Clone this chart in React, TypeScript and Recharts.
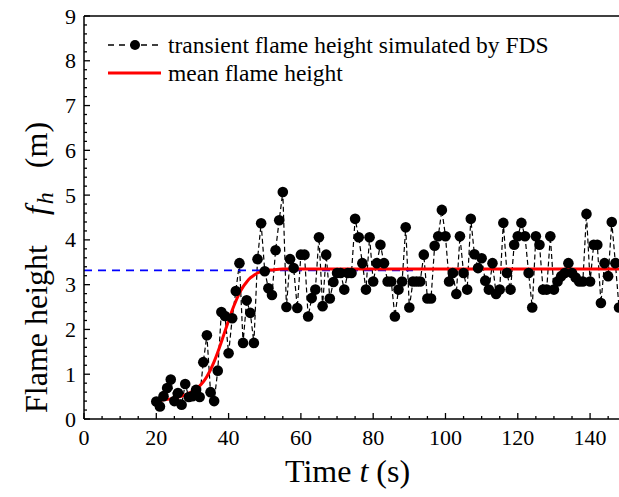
import React from "react";
import { ComposedChart, Line, XAxis, YAxis, ReferenceLine, Legend } from "recharts";

// transient flame height from FDS, one sample per second starting at t = 20 s
const sampleStart = 20;
const transientHeights = [
  0.39, 0.28, 0.51, 0.69, 0.88, 0.4, 0.58, 0.32, 0.78, 0.49,
  0.51, 0.65, 0.49, 1.27, 1.87, 0.6, 0.4, 1.08, 2.39, 2.3,
  1.47, 2.25, 2.86, 3.48, 1.7, 2.65, 2.37, 1.7, 3.57, 4.37,
  3.3, 2.92, 2.77, 3.77, 4.44, 5.07, 2.5, 3.57, 3.37, 2.48,
  3.67, 3.67, 2.29, 2.7, 2.89, 4.06, 2.52, 3.67, 2.69, 3.06,
  3.26, 3.26, 2.89, 3.26, 3.26, 4.47, 4.06, 3.48, 2.89, 4.06,
  3.07, 3.48, 3.89, 3.48, 3.07, 3.07, 2.29, 2.89, 3.07, 4.28,
  2.49, 3.07, 3.07, 3.07, 3.67, 2.69, 2.69, 3.87, 4.08, 4.67,
  4.08, 3.07, 3.26, 2.79, 4.08, 3.26, 2.89, 4.47, 3.68, 3.37,
  3.59, 3.09, 2.89, 3.48, 2.79, 2.89, 4.38, 3.26, 2.89, 3.89,
  4.08, 4.38, 4.08, 3.26, 2.49, 4.08, 3.89, 2.89, 2.89, 4.08,
  2.89, 3.07, 3.19, 3.26, 3.48, 3.26, 3.16, 3.07, 3.07, 4.58,
  3.07, 3.89, 3.89, 2.59, 3.48, 3.19, 4.4, 3.48, 2.49,
];

// mean (fitted) flame height curve
const fitTimes = [20, 22, 24, 26, 28, 30, 32, 33, 34, 35, 36, 37, 38, 39, 40, 41, 42, 43, 44, 45, 46, 47, 48, 50, 52, 55, 60, 148];
const fitHeights = [0.42, 0.43, 0.45, 0.49, 0.54, 0.62, 0.74, 0.83, 0.95, 1.1, 1.28, 1.49, 1.72, 1.96, 2.2, 2.43, 2.63, 2.81, 2.95, 3.06, 3.15, 3.21, 3.26, 3.31, 3.33, 3.35, 3.35, 3.35];

// blue dashed average level
const meanTimes = [0, 91];
const meanHeights = [3.32, 3.32];

const xMajorTicks = [0, 20, 40, 60, 80, 100, 120, 140];
const xAllTicks = [0, 5, 10, 15, 20, 25, 30, 35, 40, 45, 50, 55, 60, 65, 70, 75, 80, 85, 90, 95, 100, 105, 110, 115, 120, 125, 130, 135, 140, 145];
const yMajorTicks = [0, 1, 2, 3, 4, 5, 6, 7, 8, 9];
const yAllTicks = Array.from({ length: 46 }, (_, i) => Math.round(i * 2) / 10);

const transientData = transientHeights.map((h, i) => ({ t: sampleStart + i, h }));
const fitData = fitTimes.map((t, i) => ({ t, h: fitHeights[i] }));
const meanData = meanTimes.map((t, i) => ({ t, h: meanHeights[i] }));

const FONT = "'Liberation Serif', 'Times New Roman', serif";
const serif = { fontFamily: FONT };

const XTick = (props: any) => {
  const { x, y, payload } = props;
  const major = xMajorTicks.includes(payload.value);
  return (
    <g>
      <line x1={x} y1={y} x2={x} y2={y - (major ? 6 : 3)} stroke="#000" strokeWidth={1.3} />
      {major && (
        <text x={x} y={y + 26} textAnchor="middle" fontSize={22} fill="#000" style={serif}>
          {payload.value}
        </text>
      )}
    </g>
  );
};

const YTick = (props: any) => {
  const { x, y, payload } = props;
  const major = yMajorTicks.includes(payload.value);
  return (
    <g>
      <line x1={x} y1={y} x2={x + (major ? 6 : 3)} y2={y} stroke="#000" strokeWidth={1.3} />
      {major && (
        <text x={x - 8} y={y + 7.5} textAnchor="end" fontSize={22} fill="#000" style={serif}>
          {payload.value}
        </text>
      )}
    </g>
  );
};

const XTitle = (props: any) => {
  const vb = props.viewBox;
  return (
    <text x={vb.x + vb.width / 2 - 4} y={vb.y + 63} textAnchor="middle" fontSize={32} fill="#000" style={serif}>
      Time <tspan fontStyle="italic">t</tspan> (s)
    </text>
  );
};

const YTitle = (props: any) => {
  const vb = props.viewBox;
  const x = 47;
  const y = vb.y + vb.height - 6;
  return (
    <text x={x} y={y} transform={`rotate(-90, ${x}, ${y})`} fontSize={32} fill="#000" style={serif}>
      Flame height
      <tspan dx={30} fontStyle="italic">f</tspan>
      <tspan fontStyle="italic" fontSize={24} dx={2} dy={6}>h</tspan>
      <tspan dy={-6} dx={24}>(m)</tspan>
    </text>
  );
};

const LegendBox = () => (
  <div style={{ fontFamily: FONT, fontSize: 23.5, color: "#000", lineHeight: "28px" }}>
    <div style={{ display: "flex", alignItems: "center", height: 28 }}>
      <svg width={52} height={14} style={{ marginRight: 9 }}>
        <line x1={1} y1={7} x2={51} y2={7} stroke="#000" strokeWidth={1.3} strokeDasharray="6 5" />
        <circle cx={28} cy={7} r={5} fill="#000" />
      </svg>
      <span>transient flame height simulated by FDS</span>
    </div>
    <div style={{ display: "flex", alignItems: "center", height: 28 }}>
      <svg width={54} height={14} style={{ marginRight: 7 }}>
        <line x1={1} y1={7} x2={54} y2={7} stroke="#ff0000" strokeWidth={3} />
      </svg>
      <span>mean flame height</span>
    </div>
  </div>
);

export default function App() {
  return (
    <div style={{ position: "absolute", left: 0, top: 0, width: 619, height: 497, background: "#fff", fontFamily: FONT }}>
      <ComposedChart width={619} height={497} margin={{ top: 16, right: 0, bottom: 0, left: 0 }}>
        <XAxis
          type="number"
          dataKey="t"
          domain={[0, 148]}
          ticks={xAllTicks}
          interval={0}
          tickSize={0}
          tickMargin={0}
          tick={XTick}
          height={78}
          axisLine={{ stroke: "#000", strokeWidth: 1.5 }}
          allowDataOverflow
          label={XTitle}
        />
        <YAxis
          type="number"
          domain={[0, 9]}
          ticks={yAllTicks}
          interval={0}
          tickSize={0}
          tickMargin={0}
          tick={YTick}
          width={84}
          axisLine={{ stroke: "#000", strokeWidth: 1.5 }}
          allowDataOverflow
          label={YTitle}
        />
        <ReferenceLine y={9} stroke="#000" strokeWidth={1.5} />
        <Legend
          layout="vertical"
          align="center"
          verticalAlign="middle"
          content={LegendBox}
          wrapperStyle={{ top: 31, left: 107, width: 480 }}
        />
        <Line
          data={transientData}
          dataKey="h"
          type="linear"
          stroke="#000"
          strokeWidth={1.2}
          strokeDasharray="5 3"
          dot={(p: any) => <circle key={`d-${p.index}`} cx={p.cx} cy={p.cy} r={5.3} fill="#000" />}
          activeDot={false}
          isAnimationActive={false}
        />
        <Line
          data={meanData}
          dataKey="h"
          type="linear"
          stroke="#0000ff"
          strokeWidth={1.6}
          strokeDasharray="8 6"
          dot={false}
          activeDot={false}
          isAnimationActive={false}
        />
        <Line
          data={fitData}
          dataKey="h"
          type="monotone"
          stroke="#ff0000"
          strokeWidth={3}
          dot={false}
          activeDot={false}
          isAnimationActive={false}
        />
      </ComposedChart>
    </div>
  );
}
